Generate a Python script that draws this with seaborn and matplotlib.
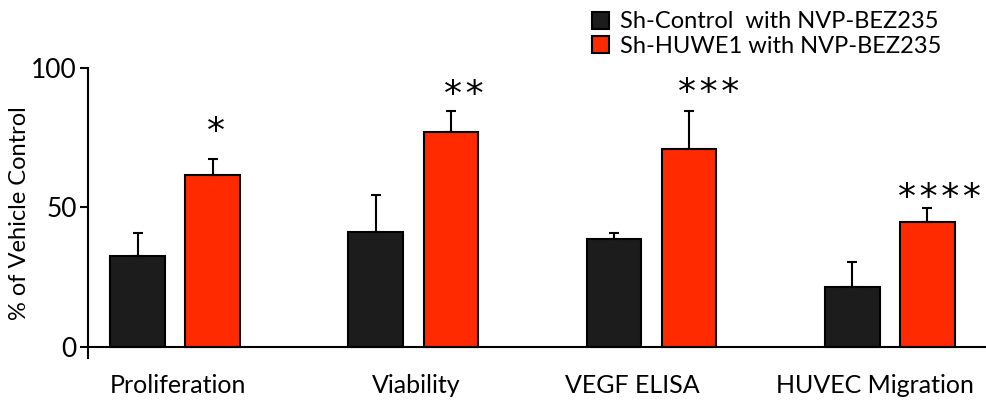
import pandas as pd
import matplotlib
matplotlib.use("Agg")
import matplotlib.pyplot as plt
import matplotlib.transforms as mtransforms
import seaborn as sns

# values (percent of vehicle control)
assays = ["Proliferation", "Viability", "VEGF ELISA", "HUVEC Migration"]
groups = ["Sh-Control  with NVP-BEZ235", "Sh-HUWE1 with NVP-BEZ235"]
control_mean = [32.7, 41.3, 38.7, 21.6]
control_err = [8.3, 13.2, 2.3, 8.7]
huwe1_mean = [61.6, 77.1, 70.9, 44.9]
huwe1_err = [5.7, 7.6, 13.8, 4.8]
stars = ["*", "**", "***", "****"]
star_height = [80.2, 93.5, 94.0, 56.3]

df = pd.DataFrame({
    "assay": assays * 2,
    "group": [groups[0]] * 4 + [groups[1]] * 4,
    "value": control_mean + huwe1_mean,
})

sns.set_style("ticks", {"text.color": "black", "axes.labelcolor": "black",
                        "xtick.color": "black", "ytick.color": "black",
                        "axes.edgecolor": "black"})
plt.rcParams["font.family"] = ["Lato", "DejaVu Sans"]

fig = plt.figure(figsize=(9.87, 4.03), dpi=100)
ax = fig.add_axes([0.0892, 0.1122, 0.9088, 0.7183])

palette = {groups[0]: "#1c1c1c", groups[1]: "#ff2a00"}
sns.barplot(data=df, x="assay", y="value", hue="group", order=assays,
            hue_order=groups, palette=palette, width=0.63, gap=0.27,
            edgecolor="black", linewidth=1.5, errorbar=None, ax=ax,
            saturation=1)

# one-sided (upper) error bars at each bar
for cont, errs in zip(ax.containers, [control_err, huwe1_err]):
    xs = [p.get_x() + p.get_width() / 2 for p in cont.patches]
    hs = [p.get_height() for p in cont.patches]
    ax.errorbar(xs, hs, yerr=[[0] * len(errs), errs], fmt="none",
                ecolor="black", elinewidth=1.5, capsize=3.6, capthick=1.5,
                zorder=1)

# significance stars above the Sh-HUWE1 bars (nudged like the original)
star_dx = [2, 9, 14, 9]
for p, s, h, dx in zip(ax.containers[1].patches, stars, star_height, star_dx):
    ax.annotate("\u200a".join(s), (p.get_x() + p.get_width() / 2, h),
                xytext=(dx, -6), textcoords="offset points", ha="center",
                va="center", fontsize=26, family="DejaVu Sans",
                color="black")

ax.set_ylim(-4, 100)
ax.set_xlim(-0.366, 3.40)
ax.set_yticks([0, 50, 100])
ax.tick_params(axis="y", labelsize=19, length=6, width=1.5, direction="out",
               pad=2)
ax.tick_params(axis="x", labelsize=18, length=0, pad=20)
sns.despine(ax=ax)
ax.spines["bottom"].set_position(("data", 0))
ax.spines["left"].set_bounds(-4, 100)
for side in ["left", "bottom"]:
    ax.spines[side].set_linewidth(1.5)
ax.set_xlabel("")
ax.set_ylabel("% of Vehicle Control", fontsize=17, labelpad=1)

# category labels sit slightly off the group centres in the original
label_dx = [2, 2, -14, -11]
for lab, dx in zip(ax.get_xticklabels(), label_dx):
    lab.set_transform(lab.get_transform() +
                      mtransforms.ScaledTranslation(dx / 72, 0,
                                                    fig.dpi_scale_trans))

handles, labels = ax.get_legend_handles_labels()
ax.legend(handles, labels, loc="upper left", bbox_to_anchor=(0.59, 0.995),
          bbox_transform=fig.transFigure, frameon=False, fontsize=17,
          handlelength=0.75, handleheight=0.75, handletextpad=0.45,
          labelspacing=0.15, borderaxespad=0)

fig.savefig("out.png", dpi=100)
